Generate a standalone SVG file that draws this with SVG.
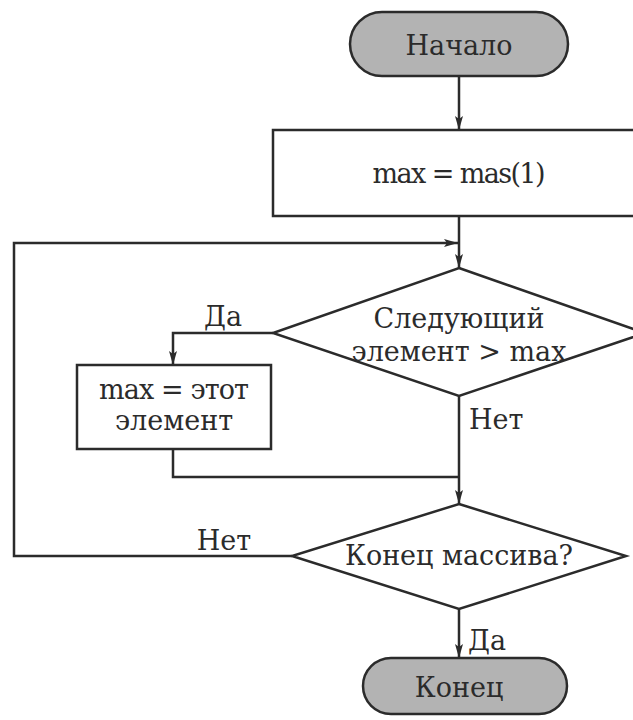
<svg xmlns="http://www.w3.org/2000/svg" width="633" height="720" viewBox="0 0 633 720">
<defs>
<style>
.shape{stroke:#2b2b2b;stroke-width:2.5;fill:#ffffff}
.term{fill:#b3b3b3}
.line{stroke:#2b2b2b;stroke-width:2.5;fill:none}
text{font-family:'DejaVu Serif','Liberation Serif',serif;font-size:27px;fill:#2b2b2b}
.c{text-anchor:middle}
</style>
<marker id="arr" viewBox="0 0 14 8" refX="14" refY="4" markerWidth="14" markerHeight="8" markerUnits="userSpaceOnUse" orient="auto">
<path d="M0,0 L14,4 L0,8 L3,4 Z" fill="#2b2b2b"/>
</marker>
</defs>
<rect width="633" height="720" fill="#ffffff"/>
<g id="connectors">
<path class="line" d="M459,76 V130" marker-end="url(#arr)"/>
<path class="line" d="M459,216 V268" marker-end="url(#arr)"/>
<path class="line" d="M292,556 H14 V243 H458" marker-end="url(#arr)"/>
<path class="line" d="M273,333 H173 V365" marker-end="url(#arr)"/>
<path class="line" d="M173,449 V477 H459"/>
<path class="line" d="M459,396 V504" marker-end="url(#arr)"/>
<path class="line" d="M459,609 V658" marker-end="url(#arr)"/>
<text x="223" y="326" class="c">Да</text>
<text x="469" y="429">Нет</text>
<text x="224" y="550" class="c">Нет</text>
<text x="468" y="650">Да</text>
</g>
<g id="start">
<rect class="shape term" x="350" y="12" width="218" height="64" rx="32" ry="32"/>
<text x="459" y="55" class="c">Начало</text>
</g>
<g id="init">
<rect class="shape" x="273" y="130" width="372" height="86"/>
<text x="459" y="183" class="c" textLength="173" lengthAdjust="spacing">max = mas(1)</text>
</g>
<g id="cond1">
<polygon class="shape" points="459,268 645,333 459,396 273,333"/>
<text x="459" y="328" class="c">Следующий</text>
<text x="459" y="361" class="c">элемент &gt; max</text>
</g>
<g id="assign">
<rect class="shape" x="77" y="365" width="194" height="84"/>
<text x="174" y="399" class="c" textLength="150" lengthAdjust="spacing">max = этот</text>
<text x="174" y="430" class="c">элемент</text>
</g>
<g id="cond2">
<polygon class="shape" points="459,504 626,556 459,609 292,556"/>
<text x="459" y="565" class="c" textLength="228" lengthAdjust="spacing">Конец массива?</text>
</g>
<g id="end">
<rect class="shape term" x="363" y="658" width="204" height="56" rx="28" ry="28"/>
<text x="459" y="697" class="c">Конец</text>
</g>
</svg>
